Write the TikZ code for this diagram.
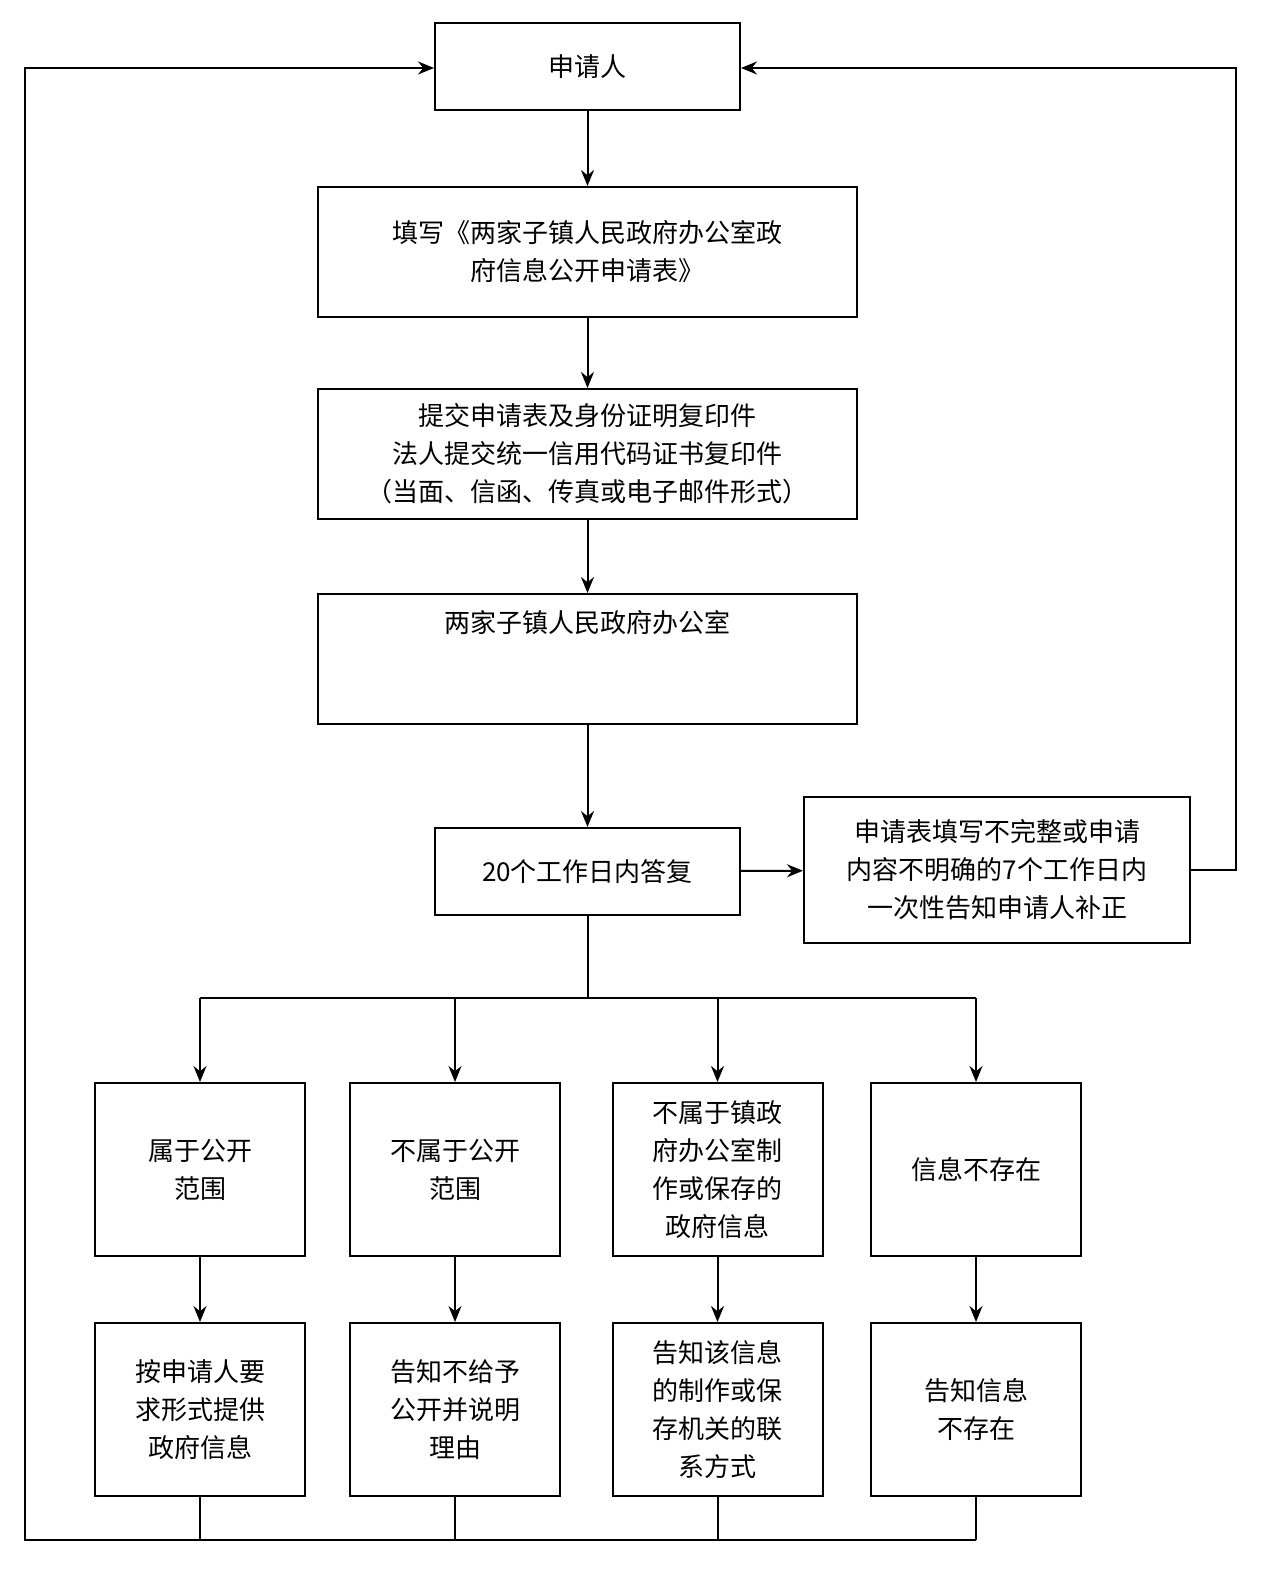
\documentclass[tikz,border=0pt]{standalone}
\usepackage{fontspec}
\setmainfont{Noto Sans CJK SC}
\usetikzlibrary{arrows.meta}
\begin{document}
\begin{tikzpicture}[x=1pt,y=-1pt,
  bx/.style={draw,line width=2pt,align=center,font=\fontsize{26}{38}\selectfont,inner sep=0pt},
  ar/.style={line width=2pt,-{Stealth[length=16pt,width=13pt]}},
  ln/.style={line width=2pt}]
\useasboundingbox[fill=white] (0,0) rectangle (1266,1576);
\node[bx,minimum width=305pt,minimum height=87pt] (a) at (587.5,66.5) {申请人};
\node[bx,minimum width=539pt,minimum height=130pt] (b) at (587.5,252) {填写《两家子镇人民政府办公室政\\府信息公开申请表》};
\node[bx,minimum width=539pt,minimum height=130pt] (c) at (587.5,454) {提交申请表及身份证明复印件\\法人提交统一信用代码证书复印件\\（当面、信函、传真或电子邮件形式）};
\node[bx,minimum width=539pt,minimum height=130pt] (d) at (587.5,659) {两家子镇人民政府办公室\\[38pt]};
\node[bx,minimum width=305pt,minimum height=87pt] (e) at (587.5,871.5) {20个工作日内答复};
\node[bx,minimum width=386pt,minimum height=146pt] (f) at (997,870) {申请表填写不完整或申请\\内容不明确的7个工作日内\\一次性告知申请人补正};
\foreach \n/\x/\t/\u in {1/200/{属于公开\\范围}/{按申请人要\\求形式提供\\政府信息},
  2/455/{不属于公开\\范围}/{告知不给予\\公开并说明\\理由},
  3/717.5/{不属于镇政\\府办公室制\\作或保存的\\政府信息}/{告知该信息\\的制作或保\\存机关的联\\系方式},
  4/976/{信息不存在}/{告知信息\\不存在}}{
  \node[bx,minimum width=210pt,minimum height=173pt] (p\n) at (\x,1169.5) {\t};
  \node[bx,minimum width=210pt,minimum height=173pt] (q\n) at (\x,1409.5) {\u};
  \draw[ar] (p\n) -- (q\n);
  \coordinate (t\n) at (\x,998);
  \draw[ar] (t\n) -- (p\n);
  \coordinate (z\n) at (\x,1540);
  \draw[ln] (q\n) -- (z\n);
}
\draw[ar] (a) -- (b);
\draw[ar] (b) -- (c);
\draw[ar] (c) -- (d);
\draw[ar] (d) -- (e);
\draw[ar] (e) -- (f);
\coordinate (m) at (587.5,998);
\draw[ln] (e) -- (m);
\draw[ln] (t1) -- (t4);
\coordinate (l1) at (25,1540);
\coordinate (l2) at (25,68);
\draw[ar] (z4) -- (l1) -- (l2) -- (a.west |- l2);
\coordinate (r1) at (1236,870);
\coordinate (r2) at (1236,68);
\draw[ar] (f.east) -- (r1) -- (r2) -- (a.east |- r2);
\end{tikzpicture}
\end{document}
